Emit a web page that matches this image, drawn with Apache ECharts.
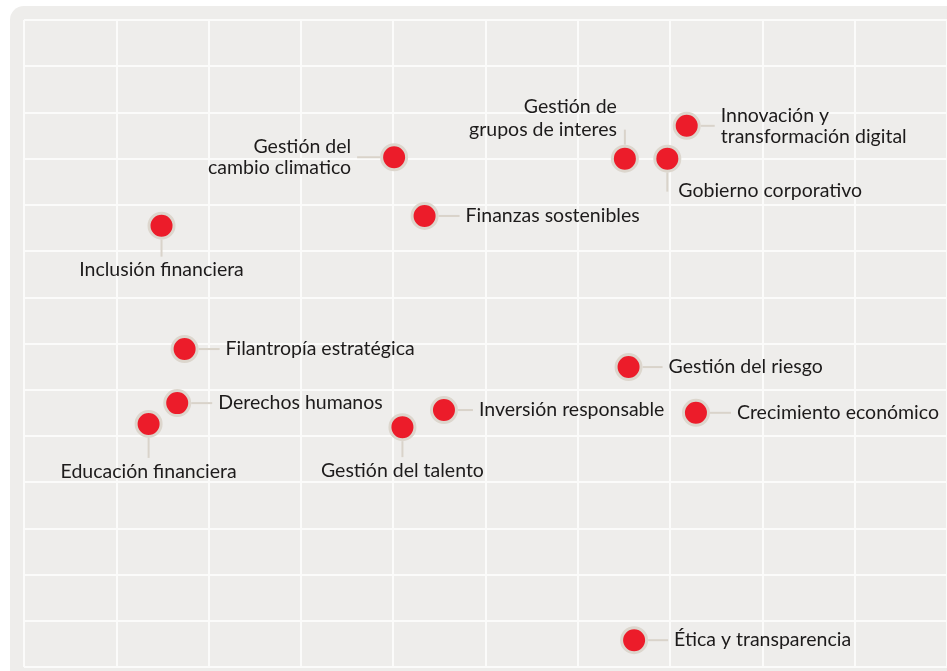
<!DOCTYPE html>
<html>
<head>
<meta charset="utf-8">
<script src="https://cdn.jsdelivr.net/npm/echarts@6/dist/echarts.min.js"></script>
<style>
  html, body { margin: 0; padding: 0; background: #ffffff; }
  #chart { width: 947px; height: 671px; }
</style>
</head>
<body>
<div id="chart"></div>
<script>
// datos de los temas materiales
var temas = [
  'Gestión del\ncambio climatico',
  'Gestión de\ngrupos de interes',
  'Gobierno corporativo',
  'Innovación y\ntransformación digital',
  'Finanzas sostenibles',
  'Inclusión financiera',
  'Filantropía estratégica',
  'Gestión del riesgo',
  'Derechos humanos',
  'Educación financiera',
  'Gestión del talento',
  'Inversión responsable',
  'Crecimiento económico',
  'Ética y transparencia'
];
var ejeX = [4.01, 6.51, 6.97, 7.18, 4.34, 1.49, 1.74, 6.55, 1.66, 1.35, 4.10, 4.55, 7.28, 6.61];
var ejeY = [11.03, 11.0, 11.0, 11.71, 9.76, 9.55, 6.88, 6.49, 5.71, 5.26, 5.19, 5.56, 5.50, 0.58];

// hacia donde va la etiqueta de cada punto
var lados = ['left', 'top', 'bottom2', 'right', 'right', 'bottom', 'right', 'right', 'right', 'bottom', 'bottom', 'right', 'right', 'right'];
var distancias = [29, 21, 22, 20, 27, 20, 27, 26, 27, 23, 19, 21, 27, 26];

var myChart = echarts.init(document.getElementById('chart'));

var puntos = temas.map(function (t, i) {
  var label = { distance: distancias[i] };
  if (lados[i] === 'top') {
    label.position = [6, -3];
    label.align = 'right';
    label.verticalAlign = 'bottom';
    label.lineHeight = 23;
  } else if (lados[i] === 'bottom2') {
    label.position = [25, 46];
    label.align = 'left';
    label.verticalAlign = 'middle';
  } else {
    label.position = lados[i];
    if (lados[i] === 'left') label.align = 'right';
  }
  return { name: t, value: [ejeX[i], ejeY[i]], label: label };
});

var lineas = temas.map(function (t, i) {
  return [ejeX[i], ejeY[i], i];
});

var opt = {
  animation: false,
  graphic: [{
    type: 'rect',
    z: -10,
    silent: true,
    shape: { x: 10, y: 6, width: 980, height: 700, r: 14 },
    style: { fill: '#eeedeb' }
  }],
  grid: { left: 24, top: 20, right: -4, bottom: 4, containLabel: false },
  xAxis: {
    type: 'value', min: 0, max: 10, interval: 1,
    axisLine: { show: false }, axisTick: { show: false }, axisLabel: { show: false },
    splitLine: { lineStyle: { color: '#fbfbfa', width: 2 } }
  },
  yAxis: {
    type: 'value', min: 0, max: 14, interval: 1,
    axisLine: { show: false }, axisTick: { show: false }, axisLabel: { show: false },
    splitLine: { lineStyle: { color: '#fbfbfa', width: 2 } }
  },
  series: [{
    // lineas guia
    type: 'custom',
    z: 2,
    silent: true,
    data: lineas,
    renderItem: function (params, api) {
      var p = api.coord([api.value(0), api.value(1)]);
      var i = api.value(2);
      var lado = lados[i];
      var r = 14;
      var len = (lado === 'bottom' || lado === 'bottom2') ? distancias[i] - 3 : distancias[i] - 6;
      var x1 = p[0], y1 = p[1], x2 = p[0], y2 = p[1];
      if (lado === 'right') { x1 += r; x2 += r + len; }
      else if (lado === 'left') { x1 -= r; x2 -= r + len; }
      else if (lado === 'top') { y1 -= r; y2 -= r + len; }
      else { y1 += r; y2 += r + len; }
      return {
        type: 'line',
        shape: { x1: x1, y1: y1, x2: x2, y2: y2 },
        style: { stroke: '#d9d3ca', lineWidth: 2 }
      };
    }
  }, {
    type: 'scatter',
    z: 3,
    symbolSize: 25,
    data: puntos,
    itemStyle: {
      color: '#ec1c2a',
      borderColor: '#dcd6cd',
      borderWidth: 3,
      opacity: 1
    },
    label: {
      show: true,
      formatter: '{b}',
      color: '#1d1b1b',
      fontFamily: 'Lato',
      fontSize: 19.5,
      lineHeight: 21
    },
    emphasis: { disabled: true }
  }]
};

myChart.setOption(opt);
</script>
</body>
</html>
